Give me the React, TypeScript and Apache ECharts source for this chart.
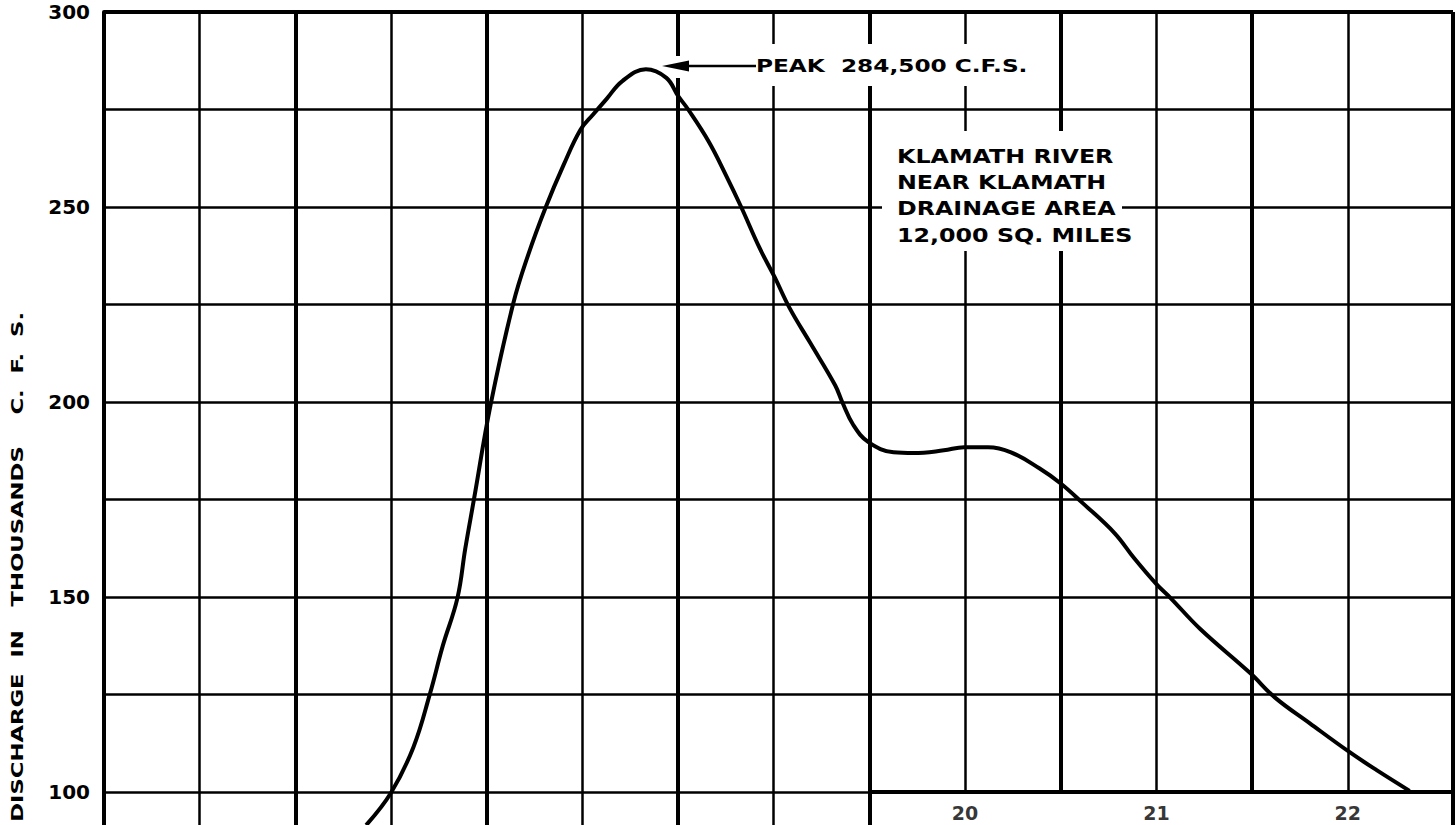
import React, { useEffect, useRef } from 'react';
import * as echarts from 'echarts';

// Time in days (day of month, fractional) and discharge in thousands c.f.s.
const days = [
  17.37, 17.5, 17.617, 17.704, 17.77, 17.847, 17.888, 17.934, 18.02, 18.139,
  18.216, 18.309, 18.402, 18.49, 18.556, 18.628, 18.709, 18.832, 18.939, 19.0,
  19.053, 19.16, 19.25, 19.33, 19.426, 19.505, 19.584, 19.689, 19.821, 19.858,
  19.916, 19.995, 20.126, 20.232, 20.389, 20.495, 20.62, 20.74, 20.888, 21.0,
  21.112, 21.281, 21.383, 21.5, 21.573, 21.729, 21.99, 22.12, 22.302, 22.51,
  22.651, 22.823,
];
const discharge = [
  91.5, 99.8, 111.5, 125.3, 137.4, 149.7, 162.4, 175.2, 199.2, 225.3,
  237.6, 250, 260.8, 269.8, 273.7, 277.8, 282.3, 285.3, 283.1, 278.5,
  275, 266.8, 258.2, 250, 239.5, 232.0, 224.0, 215.3, 204.3, 200,
  194.1, 189.7, 187.1, 186.9, 187.6, 188.4, 188.4, 187.1, 183.0, 179.1,
  174.2, 166.4, 160.0, 153.3, 149.8, 141.8, 130.5, 124.2, 117.6, 110.2,
  105.6, 100.3,
];

const dayBoundaries = [17, 18, 19, 20, 21, 22];
const halfDays = [16.5, 17.5, 18.5, 19.5, 20.5, 21.5, 22.5];
const dayLabels = ['20', '21', '22'];
const dayLabelCenters = [20.5, 21.5, 22.5];

const X_MIN = 16;
const X_MAX = 23.05;
const Y_MIN = 75;
const Y_MAX = 300;
const Y_STEP = 25;
const Y_LABEL_STEP = 50;
const STRIP_START = 20;
const BASELINE = 100;
const DAY_LABEL_LEVEL = 94.6;

const yAxisName = 'DISCHARGE  IN   THOUSANDS    C.  F.  S.';
const peakText = 'PEAK  284,500 C.F.S.';
const stationLines = ['KLAMATH RIVER', 'NEAR KLAMATH', 'DRAINAGE AREA', '12,000 SQ. MILES'];

const FONT = '"DejaVu Sans", "Noto Sans", sans-serif';

export default function App() {
  const ref = useRef<HTMLDivElement>(null);

  useEffect(() => {
    if (!ref.current) return;
    const chart = echarts.init(ref.current, null, { renderer: 'svg' });

    const vSeg = (x: number) => [
      { coord: [x, x > STRIP_START ? BASELINE : Y_MIN] },
      { coord: [x, Y_MAX] },
    ];

    const thickLines: any[] = [
      ...dayBoundaries.map(vSeg),
      [{ coord: [X_MIN, Y_MAX] }, { coord: [X_MAX, Y_MAX] }],
      [{ coord: [STRIP_START, BASELINE] }, { coord: [X_MAX, BASELINE] }],
      [{ coord: [X_MAX, Y_MIN] }, { coord: [X_MAX, Y_MAX] }],
    ];
    const thinLines: any[] = halfDays.map(vSeg);

    const gridSeries = (name: string, data: any[], width: number) => ({
      name,
      type: 'line',
      data: [[X_MIN, Y_MIN]],
      symbol: 'none',
      lineStyle: { opacity: 0 },
      silent: true,
      z: 1,
      markLine: {
        silent: true,
        z: 1,
        symbol: ['none', 'none'],
        label: { show: false },
        emphasis: { disabled: true },
        lineStyle: { color: '#000', width, type: 'solid' },
        data,
      },
    });

    const txt = (o: any) => ({
      type: 'text',
      z: 10,
      ...o,
      style: {
        fill: '#000',
        fontFamily: FONT,
        fontWeight: 'bold',
        ...o.style,
      },
    });

    chart.setOption({
      animation: false,
      backgroundColor: '#fff',
      grid: { left: 104, right: 3, top: 12, bottom: 10.5, containLabel: false },
      xAxis: {
        type: 'value',
        min: X_MIN,
        max: X_MAX,
        show: false,
        splitLine: { show: false },
      },
      yAxis: {
        type: 'value',
        min: Y_MIN,
        max: Y_MAX,
        interval: Y_STEP,
        axisLine: { show: true, lineStyle: { color: '#000', width: 4 } },
        axisTick: { show: false },
        splitLine: { show: true, lineStyle: { color: '#000', width: 2.5 } },
        axisLabel: {
          margin: 14,
          color: '#000',
          fontSize: 20,
          fontWeight: 'bold',
          fontFamily: FONT,
          formatter: (v: number) => (v >= BASELINE && v % Y_LABEL_STEP === 0 ? String(v) : ''),
        },
      },
      series: [
        gridSeries('thin grid', thinLines, 2.5),
        gridSeries('thick grid', thickLines, 4),
        {
          name: 'Discharge',
          type: 'line',
          data: days.map((d, i) => [d, discharge[i]]),
          symbol: 'none',
          showSymbol: false,
          smooth: 0.4,
          lineStyle: { color: '#000', width: 4 },
          z: 6,
          silent: true,
        },
        {
          name: 'Day labels',
          type: 'scatter',
          data: dayLabelCenters.map((x, i) => ({ value: [x, DAY_LABEL_LEVEL], name: dayLabels[i] })),
          symbolSize: 1,
          itemStyle: { color: 'rgba(0,0,0,0)' },
          silent: true,
          z: 6,
          label: {
            show: true,
            position: 'inside',
            formatter: '{b}',
            color: '#000',
            fontSize: 19,
            fontWeight: 'bold',
            fontFamily: FONT,
          },
        },
      ],
      graphic: [
        { type: 'rect', z: 3, shape: { x: 752, y: 44, width: 290, height: 42 }, style: { fill: '#fff' } },
        { type: 'rect', z: 3, shape: { x: 673, y: 56, width: 14, height: 22 }, style: { fill: '#fff' } },
        { type: 'rect', z: 3, shape: { x: 882, y: 131, width: 240, height: 120 }, style: { fill: '#fff' } },
        {
          type: 'line',
          z: 10,
          shape: { x1: 686, y1: 66, x2: 756, y2: 66 },
          style: { stroke: '#000', lineWidth: 2.5 },
        },
        {
          type: 'polygon',
          z: 10,
          shape: { points: [[662, 66], [689, 60.5], [689, 71.5]] },
          style: { fill: '#000' },
        },
        txt({
          x: 756,
          y: 66,
          scaleX: 1.29,
          style: { text: peakText, fontSize: 18, align: 'left', verticalAlign: 'middle', textAlign: 'left', textVerticalAlign: 'middle' },
        }),
        ...stationLines.map((s, i) =>
          txt({
            x: 897,
            y: 156 + i * 26.3,
            scaleX: 1.25,
            style: { text: s, fontSize: 19, align: 'left', verticalAlign: 'middle', textAlign: 'left', textVerticalAlign: 'middle' },
          })
        ),
        txt({
          x: 18,
          y: 312,
          rotation: Math.PI / 2,
          scaleX: 1.42,
          style: { text: yAxisName, fontSize: 16, align: 'right', verticalAlign: 'middle', textAlign: 'right', textVerticalAlign: 'middle' },
        }),
      ],
    });

    return () => chart.dispose();
  }, []);

  return (
    <div
      style={{
        position: 'fixed',
        left: 0,
        top: 0,
        width: 1456,
        height: 825,
        overflow: 'hidden',
        background: '#fff',
      }}
    >
      <div ref={ref} style={{ width: 1456, height: 900 }} />
    </div>
  );
}
